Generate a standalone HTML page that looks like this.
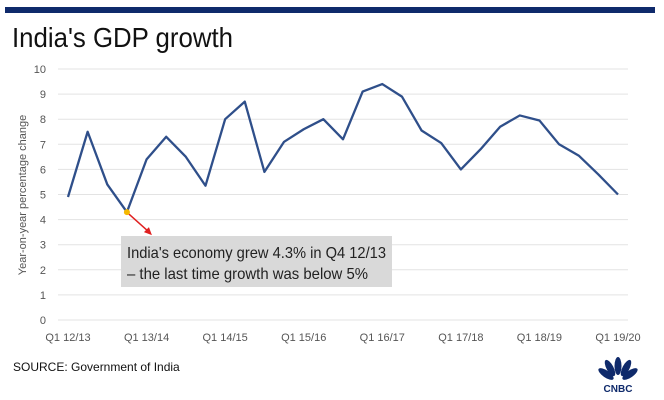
<!DOCTYPE html>
<html><head><meta charset="utf-8"><style>
body{margin:0;width:664px;height:400px;background:#fff;overflow:hidden;font-family:"Liberation Sans",sans-serif;}
svg{display:block}
</style></head><body>
<svg width="664" height="400">
<rect x="5" y="7" width="650" height="6" fill="#0f2a6b"/>
<text x="12" y="47" font-size="28" fill="#111" textLength="221" lengthAdjust="spacingAndGlyphs">India's GDP growth</text>
<g id="grid"></g>
<g id="yt"></g>
<g id="xt"></g>
<text transform="translate(26,195) rotate(-90)" text-anchor="middle" font-size="11" fill="#555">Year-on-year percentage change</text>
<path id="line" fill="none" stroke="#2f4f8a" stroke-width="2.3" stroke-linejoin="round"/>
<rect x="121" y="236" width="271" height="51" fill="#d9d9d9"/>
<text x="127" y="258" font-size="16" fill="#222" textLength="259" lengthAdjust="spacingAndGlyphs">India's economy grew 4.3% in Q4 12/13</text>
<text x="127" y="279" font-size="16" fill="#222" textLength="241" lengthAdjust="spacingAndGlyphs">– the last time growth was below 5%</text>
<line id="arrow" stroke="#e02020" stroke-width="1.5"/>
<polygon id="arrowhead" fill="#e02020"/>
<circle id="dot" r="3" fill="#f5b800"/>
<text x="13" y="371" font-size="12" fill="#111">SOURCE: Government of India</text>
<g>
<g fill="#0f2a6b">
<ellipse cx="606" cy="374" rx="3.5" ry="9" transform="rotate(-55 606 374)"/>
<ellipse cx="610" cy="368" rx="3.5" ry="9" transform="rotate(-28 610 368)"/>
<ellipse cx="618" cy="366" rx="3.5" ry="9"/>
<ellipse cx="626" cy="368" rx="3.5" ry="9" transform="rotate(28 626 368)"/>
<ellipse cx="630" cy="374" rx="3.5" ry="9" transform="rotate(55 630 374)"/>
</g>
<text x="618" y="392" font-size="10" font-weight="bold" text-anchor="middle" fill="#0f2a6b">CNBC</text>
</g>
</svg>
<script>
const values=[4.9,7.5,5.4,4.3,6.4,7.3,6.5,5.35,8.0,8.7,5.9,7.1,7.6,8.0,7.2,9.1,9.4,8.9,7.55,7.05,6.0,6.8,7.7,8.15,7.95,7.0,6.55,5.8,5.0];
const xLabels=["Q1 12/13","Q1 13/14","Q1 14/15","Q1 15/16","Q1 16/17","Q1 17/18","Q1 18/19","Q1 19/20"];
const yTicks=[0,1,2,3,4,5,6,7,8,9,10];
const highlightIndex=3;
const ns="http://www.w3.org/2000/svg";
const x=i=>68+i*(550/(values.length-1));
const y=v=>320-v*25.1;
function mk(t,a,p){const e=document.createElementNS(ns,t);for(const k in a)e.setAttribute(k,a[k]);p.appendChild(e);return e;}
const grid=document.getElementById('grid'),yt=document.getElementById('yt'),xt=document.getElementById('xt');
yTicks.forEach(v=>{
 const l=mk('line',{x1:58,x2:628,y1:y(v),y2:y(v),stroke:'#e3e3e3','stroke-width':1},grid);
 
 
 const t=mk('text',{x:46,y:y(v)+4,'text-anchor':'end','font-size':11,fill:'#555'},yt);
 t.textContent=v;
 
 
});
xLabels.forEach((s,k)=>{
 const t=mk('text',{x:x(k*4),y:341,'text-anchor':'middle','font-size':11,fill:'#555'},xt);
 t.textContent=s;
 
 
});
document.getElementById('line').setAttribute('d',values.map((v,i)=>(i?'L':'M')+x(i)+','+y(v)).join(''));
const dx=x(highlightIndex),dy=y(values[highlightIndex]);
const d=document.getElementById('dot');d.setAttribute('cx',dx);d.setAttribute('cy',dy);
const a=document.getElementById('arrow');
a.setAttribute('x1',dx+2);a.setAttribute('y1',dy+2);a.setAttribute('x2',dx+21);a.setAttribute('y2',dy+19);
document.getElementById('arrowhead').setAttribute('points',`${dx+25},${dy+23} ${dx+17},${dy+20} ${dx+22},${dy+15}`);
</script>
</body></html>
